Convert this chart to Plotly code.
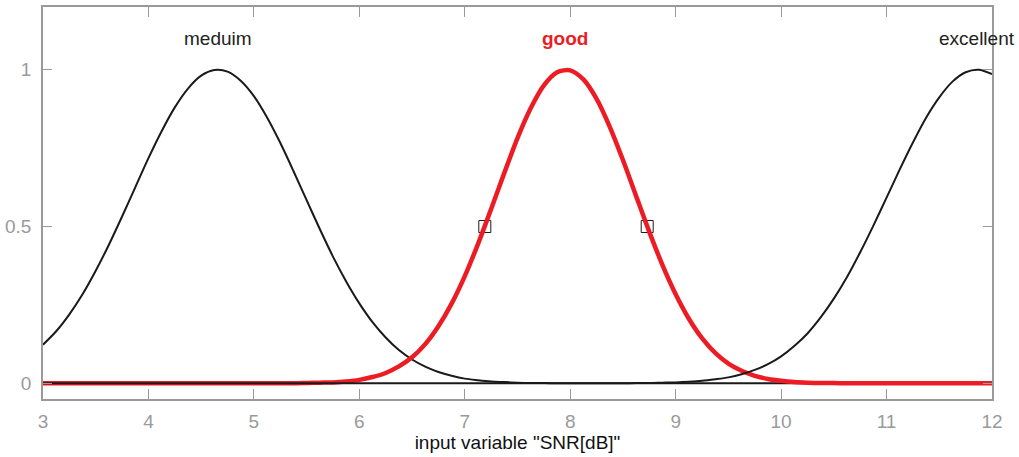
import plotly.graph_objects as go

# Membership functions of the input variable "SNR[dB]", sampled every 0.125 dB
snr = [3.000, 3.125, 3.250, 3.375, 3.500, 3.625, 3.750, 3.875,
       4.000, 4.125, 4.250, 4.375, 4.500, 4.625, 4.750, 4.875,
       5.000, 5.125, 5.250, 5.375, 5.500, 5.625, 5.750, 5.875,
       6.000, 6.125, 6.250, 6.375, 6.500, 6.625, 6.750, 6.875,
       7.000, 7.125, 7.250, 7.375, 7.500, 7.625, 7.750, 7.875,
       8.000, 8.125, 8.250, 8.375, 8.500, 8.625, 8.750, 8.875,
       9.000, 9.125, 9.250, 9.375, 9.500, 9.625, 9.750, 9.875,
       10.000, 10.125, 10.250, 10.375, 10.500, 10.625, 10.750, 10.875,
       11.000, 11.125, 11.250, 11.375, 11.500, 11.625, 11.750, 11.875,
       12.000]

mf_medium = [0.123, 0.166, 0.220, 0.284, 0.359, 0.442, 0.532, 0.625,
             0.718, 0.804, 0.880, 0.940, 0.981, 0.999, 0.994, 0.965,
             0.916, 0.848, 0.767, 0.677, 0.584, 0.492, 0.404, 0.325,
             0.255, 0.195, 0.146, 0.106, 0.076, 0.053, 0.036, 0.024,
             0.015, 0.010, 0.006, 0.004, 0.002, 0.001, 0.001, 0.000,
             0.000, 0.000, 0.000, 0.000, 0.000, 0.000, 0.000, 0.000,
             0.000, 0.000, 0.000, 0.000, 0.000, 0.000, 0.000, 0.000,
             0.000, 0.000, 0.000, 0.000, 0.000, 0.000, 0.000, 0.000,
             0.000, 0.000, 0.000, 0.000, 0.000, 0.000, 0.000, 0.000,
             0.000]

mf_good = [0.000, 0.000, 0.000, 0.000, 0.000, 0.000, 0.000, 0.000,
           0.000, 0.000, 0.000, 0.000, 0.000, 0.000, 0.000, 0.000,
           0.000, 0.000, 0.000, 0.000, 0.001, 0.002, 0.003, 0.006,
           0.011, 0.020, 0.033, 0.054, 0.083, 0.125, 0.182, 0.254,
           0.342, 0.444, 0.556, 0.671, 0.782, 0.877, 0.950, 0.992,
           0.998, 0.969, 0.907, 0.818, 0.712, 0.597, 0.483, 0.377,
           0.284, 0.206, 0.144, 0.097, 0.063, 0.040, 0.024, 0.014,
           0.008, 0.004, 0.002, 0.001, 0.001, 0.000, 0.000, 0.000,
           0.000, 0.000, 0.000, 0.000, 0.000, 0.000, 0.000, 0.000,
           0.000]

mf_excellent = [0.000, 0.000, 0.000, 0.000, 0.000, 0.000, 0.000, 0.000,
                0.000, 0.000, 0.000, 0.000, 0.000, 0.000, 0.000, 0.000,
                0.000, 0.000, 0.000, 0.000, 0.000, 0.000, 0.000, 0.000,
                0.000, 0.000, 0.000, 0.000, 0.000, 0.000, 0.000, 0.000,
                0.000, 0.000, 0.000, 0.000, 0.000, 0.000, 0.000, 0.000,
                0.000, 0.000, 0.000, 0.000, 0.000, 0.001, 0.001, 0.002,
                0.003, 0.005, 0.008, 0.013, 0.019, 0.029, 0.043, 0.061,
                0.086, 0.119, 0.159, 0.210, 0.270, 0.339, 0.418, 0.503,
                0.592, 0.682, 0.768, 0.847, 0.912, 0.962, 0.992, 1.000,
                0.986]

# Label positions (centre of each membership function)
mf_names = ["meduim", "good", "excellent"]
mf_centers = [4.66, 7.955, 11.86]
label_y = 1.1

# Crossover points of the selected function
cross_x = [7.19, 8.73]
cross_y = [0.5, 0.5]

x_ticks = [3, 4, 5, 6, 7, 8, 9, 10, 11, 12]
y_ticks = [0, 0.5, 1]
y_tick_text = ["0", "0.5", "1"]

RED = "#ED1C24"
BLACK = "#1a1a1a"
GRAY = "#9a9a9a"
FONT = "Liberation Sans, Arial, Helvetica, sans-serif"

fig = go.Figure()

fig.add_trace(go.Scatter(x=snr, y=mf_medium, mode="lines",
                         line=dict(color=BLACK, width=2, shape="spline", smoothing=0.8),
                         hoverinfo="skip", showlegend=False))
fig.add_trace(go.Scatter(x=cross_x, y=cross_y, mode="markers",
                         marker=dict(symbol="square-open", size=12,
                                     color=BLACK, line=dict(width=1, color=BLACK)),
                         hoverinfo="skip", showlegend=False))
fig.add_trace(go.Scatter(x=snr, y=mf_good, mode="lines",
                         line=dict(color=RED, width=4.5, shape="spline", smoothing=0.8),
                         hoverinfo="skip", showlegend=False))
fig.add_trace(go.Scatter(x=snr, y=mf_excellent, mode="lines",
                         line=dict(color=BLACK, width=2, shape="spline", smoothing=0.8),
                         hoverinfo="skip", showlegend=False))

for name, cx in zip(mf_names, mf_centers):
    selected = name == "good"
    fig.add_annotation(
        x=cx, y=label_y, text=f"<b>{name}</b>" if selected else name,
        showarrow=False, xanchor="center", yanchor="middle",
        font=dict(family=FONT, size=19, color=RED if selected else "#222222"),
    )

axis_common = dict(
    showline=True, linecolor=GRAY, linewidth=1.5, mirror="ticks",
    ticks="inside", tickcolor=GRAY, tickwidth=1, showgrid=False, zeroline=False,
    tickfont=dict(family=FONT, size=19, color=GRAY),
)

fig.update_xaxes(
    range=[3, 12], tickvals=x_ticks, ticklen=10, ticklabelstandoff=4,
    title=dict(text='input variable "SNR[dB]"', standoff=4,
               font=dict(family=FONT, size=19, color="#111111")),
    **axis_common,
)
fig.update_yaxes(
    range=[-0.05, 1.2], tickvals=y_ticks, ticktext=y_tick_text, ticklen=9,
    ticklabelstandoff=6,
    **axis_common,
)

fig.update_layout(
    width=1019, height=457,
    margin=dict(l=43, r=27, t=5, b=58),
    plot_bgcolor="white", paper_bgcolor="white",
    showlegend=False,
)

fig.write_html("out.html")
